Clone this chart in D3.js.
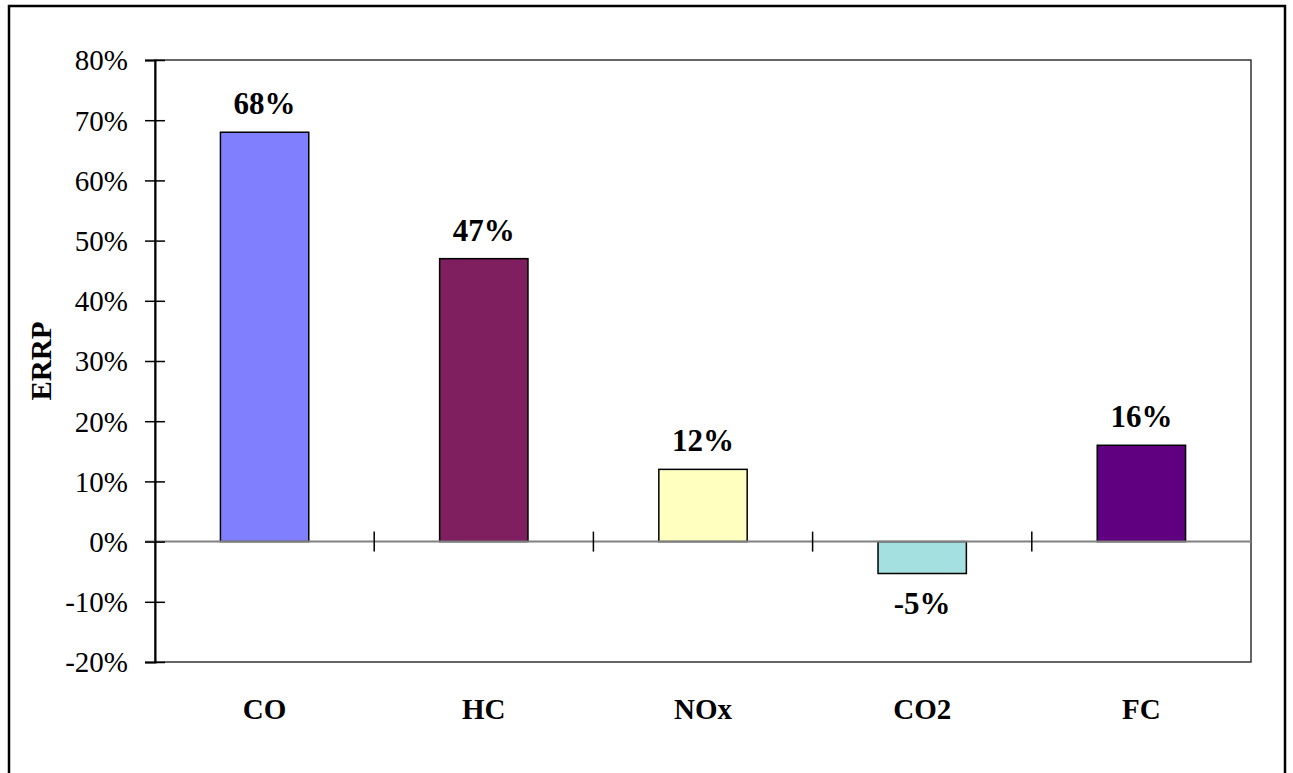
<!DOCTYPE html>
<html>
<head>
<meta charset="utf-8">
<script src="https://cdn.jsdelivr.net/npm/d3@7"></script>
<style>
  html, body { margin: 0; padding: 0; background: #fff; }
  svg { display: block; }
  text { font-family: "Liberation Serif", "Times New Roman", serif; fill: #000; }
</style>
</head>
<body>
<svg id="chart" width="1293" height="773"></svg>
<script>
const categories = ["CO", "HC", "NOx", "CO2", "FC"];
const values = [68, 47, 12, -5.3, 16];
const valueLabels = ["68%", "47%", "12%", "-5%", "16%"];
const colors = ["#8080FF", "#7F1F5F", "#FFFFC0", "#A4E0E0", "#600080"];
const yTicks = [-20, -10, 0, 10, 20, 30, 40, 50, 60, 70, 80];
const yTitle = "ERRP";

const svg = d3.select("#chart");
const plot = { left: 155, right: 1251, top: 60, bottom: 662 };

// outer frame
svg.append("rect")
  .attr("x", 9).attr("y", 6).attr("width", 1276).attr("height", 800)
  .attr("fill", "#fff").attr("stroke", "#000").attr("stroke-width", 2.5);

const x = d3.scaleBand().domain(categories).range([plot.left, plot.right]).paddingInner(0).paddingOuter(0);
const y = d3.scaleLinear().domain([-20, 80]).range([plot.bottom, plot.top]);

// plot area border
svg.append("rect")
  .attr("x", plot.left).attr("y", plot.top)
  .attr("width", plot.right - plot.left).attr("height", plot.bottom - plot.top)
  .attr("fill", "none").attr("stroke", "#333").attr("stroke-width", 1.5);

// bars
const barW = x.bandwidth() * 0.403;
svg.append("g").selectAll("rect").data(categories).join("rect")
  .attr("x", (d) => x(d) + (x.bandwidth() - barW) / 2)
  .attr("y", (d, i) => y(Math.max(0, values[i])))
  .attr("width", barW)
  .attr("height", (d, i) => Math.abs(y(values[i]) - y(0)))
  .attr("fill", (d, i) => colors[i])
  .attr("stroke", "#000").attr("stroke-width", 1.5);

// zero line (category axis)
svg.append("line")
  .attr("x1", plot.left - 10).attr("x2", plot.right)
  .attr("y1", y(0)).attr("y2", y(0))
  .attr("stroke", "#808080").attr("stroke-width", 2);

// category ticks crossing zero line
const boundaries = categories.slice(1).map((c) => x(c));
svg.append("g").selectAll("line").data(boundaries).join("line")
  .attr("x1", (d) => d).attr("x2", (d) => d)
  .attr("y1", y(0) - 10).attr("y2", y(0) + 10)
  .attr("stroke", "#000").attr("stroke-width", 1.5);

// y axis
const yAxis = d3.axisLeft(y).tickValues(yTicks).tickFormat((d) => d + "%").tickSize(10).tickPadding(17);
const gy = svg.append("g").attr("transform", `translate(${plot.left},0)`).call(yAxis);
gy.select(".domain").attr("stroke", "#000").attr("stroke-width", 2);
gy.selectAll(".tick line").attr("x2", -10).attr("x1", 10).attr("stroke", "#000").attr("stroke-width", 1.5);
gy.selectAll(".tick text")
  .style("font-family", "'Liberation Serif', 'Times New Roman', serif")
  .style("font-size", "29px").attr("fill", "#000").attr("dy", "0.34em");

// value labels
svg.append("g").selectAll("text").data(categories).join("text")
  .attr("x", (d) => x(d) + x.bandwidth() / 2)
  .attr("y", (d, i) => values[i] >= 0 ? y(values[i]) - 18 : y(values[i]) + 40)
  .attr("text-anchor", "middle")
  .style("font-size", "31px").style("font-weight", "bold")
  .text((d, i) => valueLabels[i]);

// category labels
svg.append("g").selectAll("text").data(categories).join("text")
  .attr("x", (d) => x(d) + x.bandwidth() / 2)
  .attr("y", 719)
  .attr("text-anchor", "middle")
  .style("font-size", "29px").style("font-weight", "bold")
  .text((d) => d);

// y title
svg.append("text")
  .attr("transform", `translate(51,${(plot.top + plot.bottom) / 2}) rotate(-90)`)
  .attr("text-anchor", "middle")
  .style("font-size", "29px").style("font-weight", "bold")
  .text(yTitle);
</script>
</body>
</html>
